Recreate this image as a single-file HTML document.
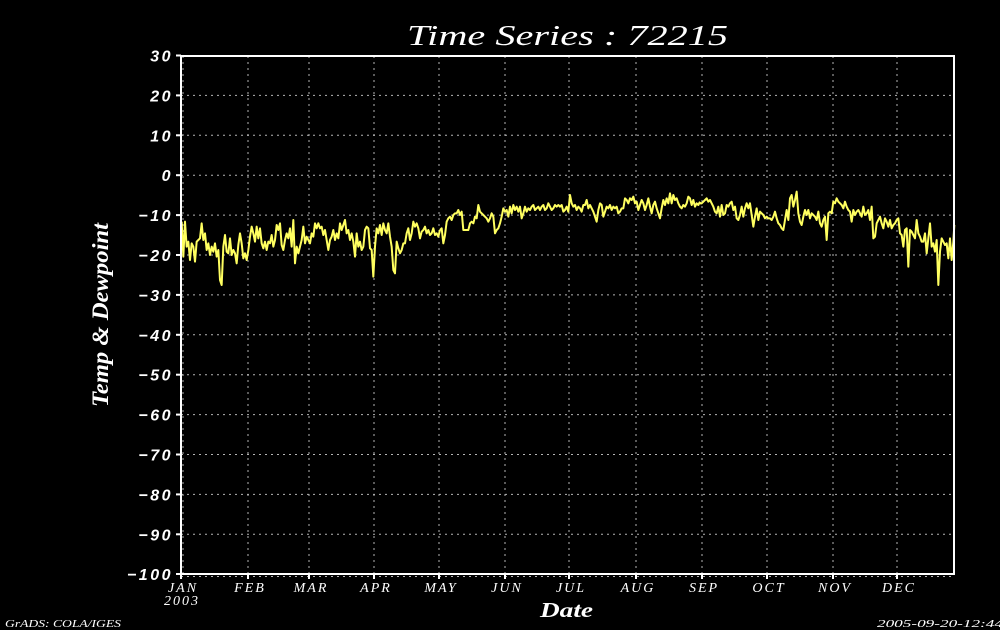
<!DOCTYPE html>
<html><head><meta charset="utf-8"><style>
html,body{margin:0;padding:0;background:#000;}
svg{display:block;}
</style></head><body>
<svg width="1000" height="630" viewBox="0 0 1000 630" xmlns="http://www.w3.org/2000/svg">
<rect width="1000" height="630" fill="#000"/>
<!-- grid -->
<g stroke="#b4b4b4" stroke-width="1" stroke-dasharray="2,4" fill="none">
<line x1="181" y1="95.4" x2="954" y2="95.4"/>
<line x1="181" y1="135.3" x2="954" y2="135.3"/>
<line x1="181" y1="175.2" x2="954" y2="175.2"/>
<line x1="181" y1="215.1" x2="954" y2="215.1"/>
<line x1="181" y1="255" x2="954" y2="255"/>
<line x1="181" y1="294.9" x2="954" y2="294.9"/>
<line x1="181" y1="334.8" x2="954" y2="334.8"/>
<line x1="181" y1="374.7" x2="954" y2="374.7"/>
<line x1="181" y1="414.6" x2="954" y2="414.6"/>
<line x1="181" y1="454.5" x2="954" y2="454.5"/>
<line x1="181" y1="494.4" x2="954" y2="494.4"/>
<line x1="181" y1="534.3" x2="954" y2="534.3"/>
<line x1="181" y1="576.5" x2="954" y2="576.5"/>
<line x1="248" y1="56" x2="248" y2="574"/>
<line x1="309" y1="56" x2="309" y2="574"/>
<line x1="374" y1="56" x2="374" y2="574"/>
<line x1="439" y1="56" x2="439" y2="574"/>
<line x1="505" y1="56" x2="505" y2="574"/>
<line x1="569" y1="56" x2="569" y2="574"/>
<line x1="636" y1="56" x2="636" y2="574"/>
<line x1="702" y1="56" x2="702" y2="574"/>
<line x1="767" y1="56" x2="767" y2="574"/>
<line x1="833" y1="56" x2="833" y2="574"/>
<line x1="897" y1="56" x2="897" y2="574"/>
<line x1="183" y1="56" x2="183" y2="574"/>
</g>
<!-- data -->
<g fill="none" stroke="#ffff60" stroke-width="2" stroke-linejoin="round">
<g transform="translate(180,180) scale(0.33333)">
<polyline vector-effect="non-scaling-stroke" points="5,125 10,230 15,125 20,200 25,185 30,240 35,190 40,200 45,245 50,185 55,180 60,175 65,130 70,180 75,160 80,210 85,190 90,225 95,200 100,215 105,190 110,230 115,210 120,300 125,315 130,200 135,165 140,215 145,220 150,175 155,225 160,210 165,220 170,250 175,195 180,160 185,190 190,235 195,220 200,240 205,210 210,170 215,140 220,160 225,185 230,140 235,175 240,145 245,190 250,205 255,185 260,210 265,185 270,190 275,165 280,200 285,180 290,135 295,150 300,130 305,195 310,210 315,180 320,160 325,175 330,145 335,200 340,120 345,250 350,200 355,220 360,200 365,180 370,140 375,190 380,170 385,180 390,190 395,160 400,170 405,130 410,145 415,130 420,145 425,140 430,165 435,150 440,180 445,210 450,180 455,170 460,150 465,180 470,160 475,175 480,130 485,150 490,135 495,120 500,160 505,150 510,180 515,160 520,185 525,230 530,160 535,200 540,185 545,210 550,200 555,150 560,140 565,145 570,205 575,210 580,290 585,200 590,145 595,160 600,135 605,165 610,130 615,150 620,160 625,130 630,170 635,200 640,270 645,280 650,185 655,205 660,220 665,210 670,190 675,190 680,160 685,145 690,180 695,160 700,125 705,140 710,130 715,145 720,175 725,155 730,150 735,140 740,160 745,150 750,165 755,160 760,145 765,165 770,160 775,170 780,150"/>
</g>
<g transform="translate(440,180) scale(0.33333)">
<polyline vector-effect="non-scaling-stroke" points="0,150 5,145 10,190 15,165 20,125 25,115 30,110 35,120 40,105 45,100 50,100 55,90 60,105 65,95 70,150 75,150 80,150 85,150 90,130 95,125 100,130 105,110 110,115 115,75 120,95 125,100 130,105 135,110 140,115 145,125 150,115 155,100 160,110 165,160 170,150 175,145 180,130 185,110 190,85 195,95 200,90 205,110 210,80 215,100 220,75 225,90 230,80 235,95 240,80 245,115 250,100 255,80 260,95 265,85 270,90 275,80 280,75 285,90 290,85 295,80 300,90 305,80 310,75 315,90 320,85 325,70 330,80 335,90 340,85 345,75 350,80 355,75 360,80 365,75 370,95 375,90 380,80 385,95 390,45 395,70 400,80 405,75 410,90 415,80 420,85 425,95 430,75 435,75 440,60 445,85 450,75 455,85 460,95 465,110 470,125 475,90 480,70 485,75 490,110 495,95 500,80 505,85 510,75 515,90 520,80 525,85 530,80 535,100 540,95 545,85 550,85 555,55 560,60 565,70 570,55 575,60 580,50 585,70 590,65 595,90 600,75 605,60 610,70 615,90 620,75 625,55 630,80 635,100 640,75 645,65 650,85 655,100 660,115 665,85 670,60 675,75 680,55 685,70 690,40 695,70 700,45 705,60 710,55 715,70 720,80 725,85 730,75 735,80 740,70 745,50 750,55 755,75 760,60 765,80 770,70 775,75 780,65"/>
</g>
<g transform="translate(700,180) scale(0.33333)">
<polyline vector-effect="non-scaling-stroke" points="0,70 5,70 10,65 15,60 20,55 25,65 30,60 35,70 40,80 45,95 50,100 55,80 60,110 65,75 70,105 75,100 80,75 85,80 90,70 95,65 100,90 105,80 110,115 115,120 120,105 125,80 130,110 135,85 140,70 145,85 150,70 155,105 160,140 165,110 170,85 175,120 180,95 185,100 190,105 195,115 200,110 205,115 210,115 215,120 220,110 225,95 230,115 235,130 240,135 245,145 250,150 255,120 260,90 265,120 270,55 275,45 280,80 285,60 290,35 295,100 300,125 305,135 310,110 315,90 320,105 325,90 330,115 335,100 340,105 345,110 350,120 355,95 360,130 365,140 370,120 375,110 380,180 385,100 390,95 395,100 400,65 405,70 410,55 415,65 420,70 425,75 430,85 435,65 440,80 445,90 450,95 455,125 460,90 465,105 470,95 475,90 480,100 485,110 490,80 495,105 500,100 505,90 510,120 515,80 520,175 525,170 530,130 535,120 540,110 545,130 550,145 555,115 560,125 565,140 570,120 575,145 580,135 585,130 590,120 595,115 600,160 605,165 610,200 615,150 620,145 625,260 630,150 635,155 640,165 645,175 650,120 655,160 660,170 665,185 670,185 675,160 680,220 685,175 690,130 695,200 700,190 705,215 710,180 715,315 720,215 725,175 730,185 735,195 740,190 745,235 750,175 755,240 760,185 763,135"/>
</g>
</g>
<!-- frame -->
<rect x="181" y="56" width="773" height="518" fill="none" stroke="#fff" stroke-width="2"/>
<!-- ticks -->
<g stroke="#fff" stroke-width="2">
<line x1="176" y1="55.5" x2="181" y2="55.5"/>
<line x1="176" y1="95.4" x2="181" y2="95.4"/>
<line x1="176" y1="135.3" x2="181" y2="135.3"/>
<line x1="176" y1="175.2" x2="181" y2="175.2"/>
<line x1="176" y1="215.1" x2="181" y2="215.1"/>
<line x1="176" y1="255" x2="181" y2="255"/>
<line x1="176" y1="294.9" x2="181" y2="294.9"/>
<line x1="176" y1="334.8" x2="181" y2="334.8"/>
<line x1="176" y1="374.7" x2="181" y2="374.7"/>
<line x1="176" y1="414.6" x2="181" y2="414.6"/>
<line x1="176" y1="454.5" x2="181" y2="454.5"/>
<line x1="176" y1="494.4" x2="181" y2="494.4"/>
<line x1="176" y1="534.3" x2="181" y2="534.3"/>
<line x1="176" y1="574" x2="181" y2="574"/>
<line x1="181" y1="574" x2="181" y2="579"/>
<line x1="248" y1="574" x2="248" y2="579"/>
<line x1="309" y1="574" x2="309" y2="579"/>
<line x1="374" y1="574" x2="374" y2="579"/>
<line x1="439" y1="574" x2="439" y2="579"/>
<line x1="505" y1="574" x2="505" y2="579"/>
<line x1="569" y1="574" x2="569" y2="579"/>
<line x1="636" y1="574" x2="636" y2="579"/>
<line x1="702" y1="574" x2="702" y2="579"/>
<line x1="767" y1="574" x2="767" y2="579"/>
<line x1="833" y1="574" x2="833" y2="579"/>
<line x1="897" y1="574" x2="897" y2="579"/>
</g>
<!-- y labels -->
<g fill="#fff" font-family="Liberation Sans, sans-serif" font-weight="bold" font-style="italic" font-size="16" letter-spacing="2.5" text-anchor="end">
<text x="173" y="61.5">30</text>
<text x="173" y="101.4">20</text>
<text x="173" y="141.3">10</text>
<text x="173" y="181.2">0</text>
<text x="173" y="221.1">−10</text>
<text x="173" y="261">−20</text>
<text x="173" y="300.9">−30</text>
<text x="173" y="340.8">−40</text>
<text x="173" y="380.7">−50</text>
<text x="173" y="420.6">−60</text>
<text x="173" y="460.5">−70</text>
<text x="173" y="500.4">−80</text>
<text x="173" y="540.3">−90</text>
<text x="173" y="580">−100</text>
</g>
<!-- x labels -->
<g fill="#fff" font-family="Liberation Serif, serif" font-style="italic" font-size="14" letter-spacing="2" text-anchor="middle">
<text x="183" y="592">JAN</text>
<text x="182" y="605">2003</text>
<text x="250" y="592">FEB</text>
<text x="311" y="592">MAR</text>
<text x="376" y="592">APR</text>
<text x="441" y="592">MAY</text>
<text x="507" y="592">JUN</text>
<text x="571" y="592">JUL</text>
<text x="638" y="592">AUG</text>
<text x="704" y="592">SEP</text>
<text x="769" y="592">OCT</text>
<text x="835" y="592">NOV</text>
<text x="899" y="592">DEC</text>
</g>
<!-- titles -->
<text x="407" y="45" fill="#fff" font-family="Liberation Serif, serif" font-style="italic" font-size="28" textLength="321" lengthAdjust="spacingAndGlyphs">Time Series : 72215</text>
<text x="540" y="617" fill="#fff" font-family="Liberation Serif, serif" font-style="italic" font-weight="bold" font-size="21" textLength="53" lengthAdjust="spacingAndGlyphs">Date</text>
<text transform="translate(108,407) rotate(-90)" fill="#fff" font-family="Liberation Serif, serif" font-style="italic" font-weight="bold" font-size="23" textLength="184" lengthAdjust="spacingAndGlyphs">Temp &amp; Dewpoint</text>
<text x="5" y="627" fill="#fff" font-family="Liberation Serif, serif" font-style="italic" font-size="11" textLength="116" lengthAdjust="spacingAndGlyphs">GrADS: COLA/IGES</text>
<text x="877" y="627" fill="#fff" font-family="Liberation Serif, serif" font-style="italic" font-size="11" textLength="126" lengthAdjust="spacingAndGlyphs">2005-09-20-12:44</text>
</svg>
</body></html>
